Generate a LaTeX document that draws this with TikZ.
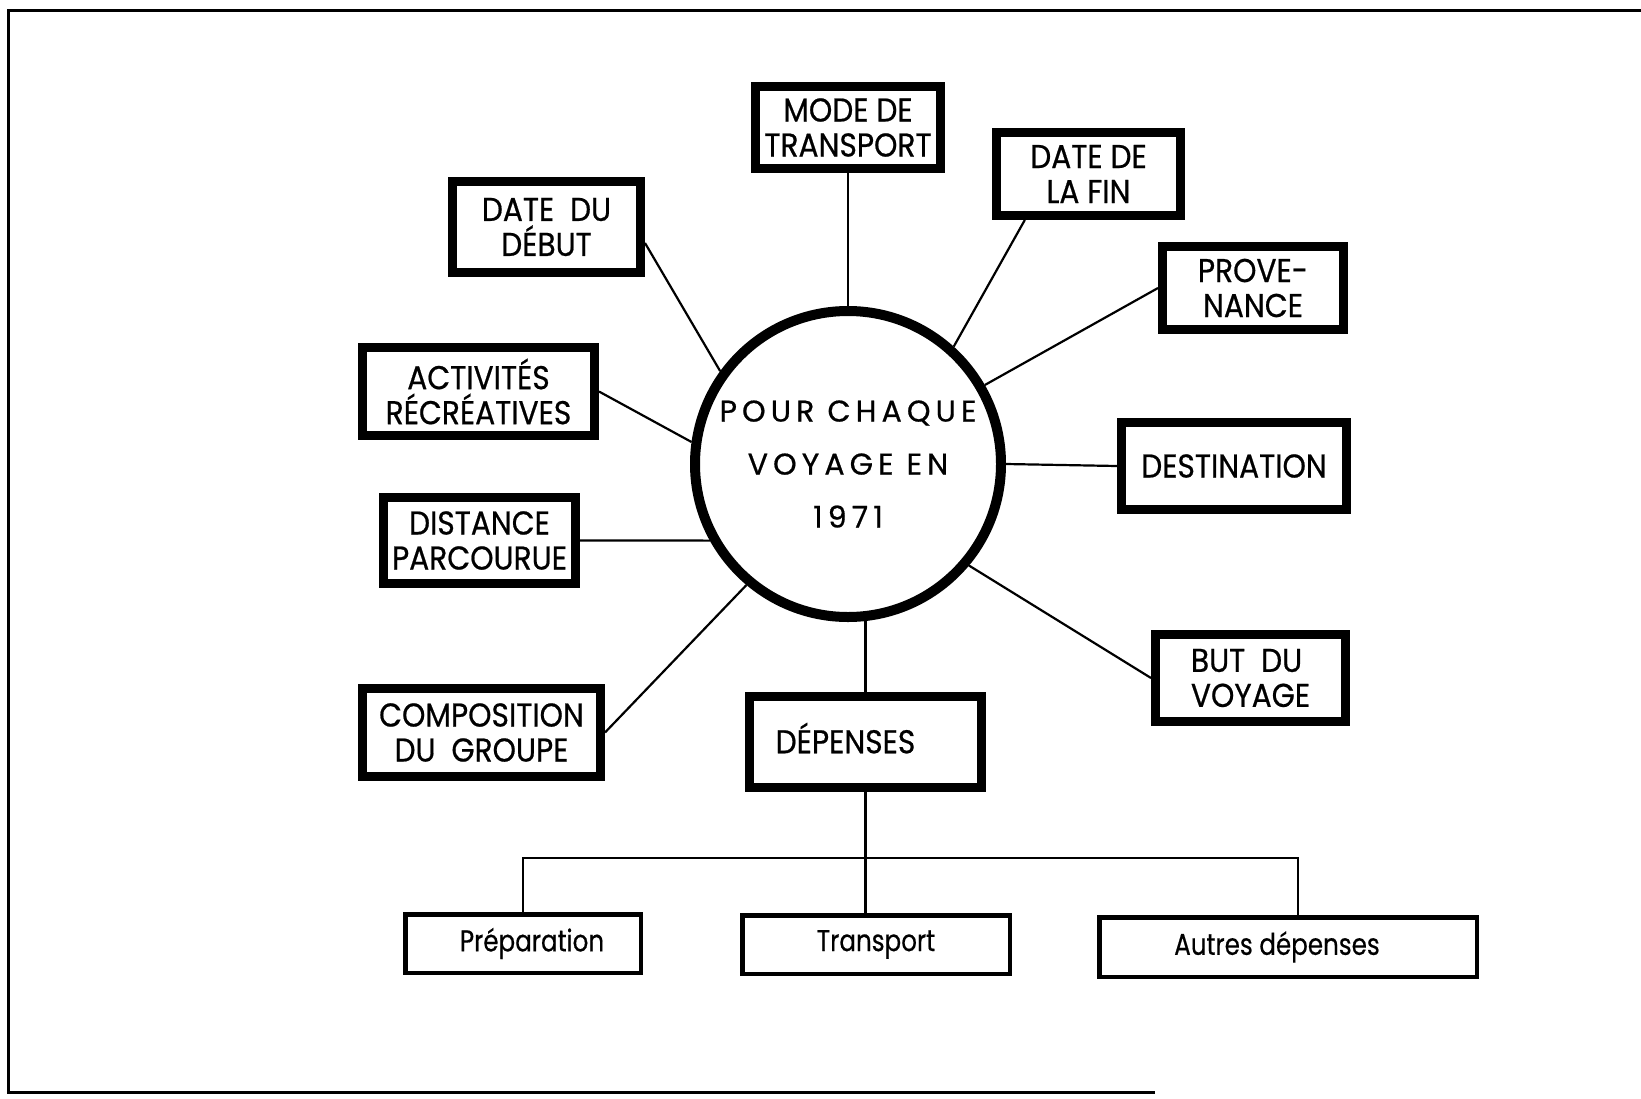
\documentclass[tikz,border=0pt]{standalone}
\usepackage{fontspec}
\setmainfont{Poppins}[FakeStretch=0.9, FakeBold=0.6]
\newfontfamily\circfont{Poppins}[LetterSpace=17, FakeBold=0.6]
\newfontfamily\subfont{Poppins}[FakeStretch=0.82, FakeBold=0.5]
\usetikzlibrary{calc}
\begin{document}
\begin{tikzpicture}[x=1pt,y=-1pt,
  box/.style={draw, line width=9pt, inner sep=0pt, align=center, font=\fontsize{33}{35}\selectfont},
  subbox/.style={draw, line width=4.5pt, inner sep=0pt, font=\subfont\fontsize{30}{34}\selectfont},
  conn/.style={line width=2.2pt},
  framel/.style={line width=3pt}]
\useasboundingbox (0,0) rectangle (1641,1098);
\draw[framel] (1641,10) -- (8,10) -- (8,1092) -- (1155,1092);

\node[circle, draw, line width=10pt, minimum size=306pt, inner sep=0pt, align=center,
      font=\circfont\fontsize{30}{53}\selectfont] (c) at (848,464) {POUR\ CHAQUE\\VOYAGE EN\\1971};

\node[box, minimum width=185pt, minimum height=82pt] (mode) at (848,127.5) {MODE DE\\TRANSPORT};
\node[box, minimum width=184pt, minimum height=83pt] (fin) at (1088.5,174) {DATE DE\\LA FIN};
\node[box, minimum width=188pt, minimum height=91pt] (debut) at (546.5,227) {DATE\ \ DU\\DÉBUT};
\node[box, minimum width=181pt, minimum height=83pt] (prov) at (1253,288) {PROVE-\\NANCE};
\node[box, minimum width=232pt, minimum height=88pt] (act) at (478.5,391.5) {ACTIVITÉS\\RÉCRÉATIVES};
\node[box, minimum width=225pt, minimum height=87pt] (dest) at (1234,466) {DESTINATION};
\node[box, minimum width=192pt, minimum height=86pt] (dist) at (479.5,540.5) {DISTANCE\\PARCOURUE};
\node[box, minimum width=190pt, minimum height=87pt, align=left] (but) at (1250.5,678) {BUT\ \ DU\\VOYAGE};
\node[box, minimum width=238pt, minimum height=88pt] (comp) at (481.5,732.5) {COMPOSITION\\DU\ \ GROUPE};
\node[box, minimum width=232pt, minimum height=91pt] (dep) at (865.5,742) {\raisebox{8pt}{DÉPENSES}\hspace*{40pt}};

\node[subbox, minimum width=235.5pt, minimum height=58.5pt] (prep) at (523,943.5) {\hspace*{18pt}Préparation};
\node[subbox, minimum width=267.5pt, minimum height=58.5pt] (trans) at (876,944.5) {Transport};
\node[subbox, minimum width=377.5pt, minimum height=59.5pt] (autres) at (1288,947) {Autres dépenses\hspace*{22pt}};

\draw[conn] (mode.south) -- (c.90);
\draw[conn] ($(fin.south west)!0.17!(fin.south east)$) -- (c.48.8);
\draw[conn] (prov.west) -- (c.30.1);
\draw[conn] (dest.west) -- (c.0);
\draw[conn] (but.west) -- (c.-40.9);
\draw[conn] (dep.north) -- (dep.north |- c.-85);
\draw[conn] (comp.east) -- (c.-130.6);
\draw[conn] (dist.east) -- (c.209.8);
\draw[conn] (act.east) -- (c.172.7);
\draw[conn] ($(debut.north east)!0.66!(debut.south east)$) -- (c.144.7);

\coordinate (bar) at (0,858);
\coordinate (autrestop) at ($(autres.north west)!0.526!(autres.north east)$);
\draw[conn] (dep.south) -- (dep.south |- trans.north);
\draw[conn] (prep.north) -- (prep.north |- bar) -- (autrestop |- bar) -- (autrestop);
\end{tikzpicture}
\end{document}
